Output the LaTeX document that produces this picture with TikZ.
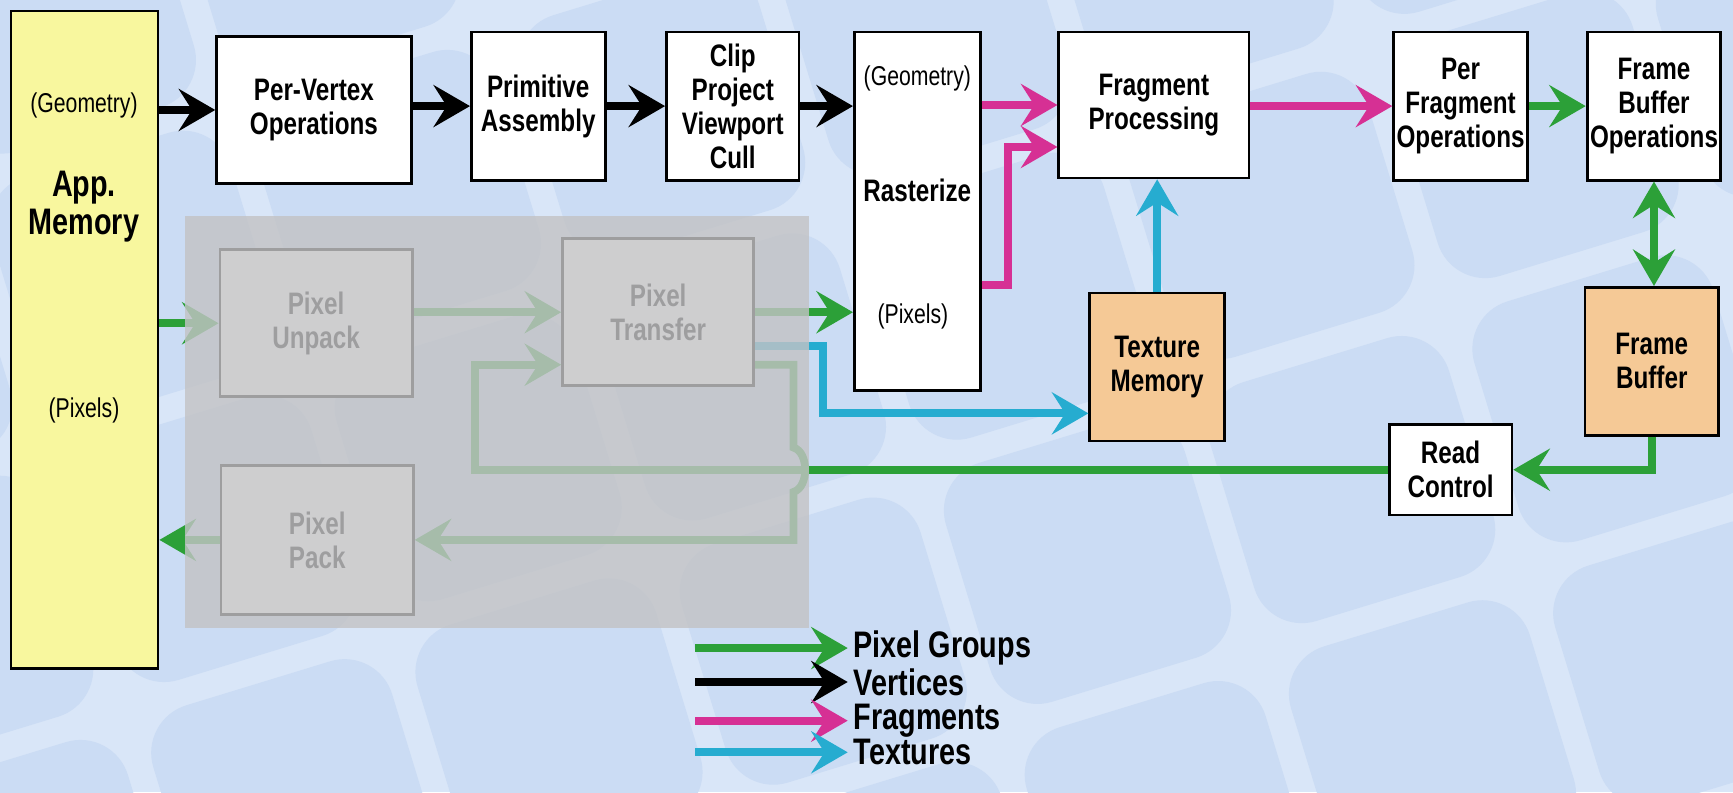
\documentclass[tikz,border=0pt]{standalone}
\usepackage{fontspec}
\setmainfont{Liberation Sans}[FakeStretch=0.78]
\usetikzlibrary{arrows.meta}
\definecolor{gl-green}{RGB}{44,160,56}
\definecolor{gl-magenta}{RGB}{214,48,148}
\definecolor{gl-cyan}{RGB}{38,172,208}
\definecolor{gl-yellow}{RGB}{248,247,158}
\definecolor{gl-orange}{RGB}{245,201,150}
\definecolor{gl-tile}{RGB}{203,220,244}
\definecolor{gl-grout}{RGB}{217,230,248}
\definecolor{gl-veil}{RGB}{195,195,197}

\begin{document}
\begin{tikzpicture}[x=0.2mm, y=0.2mm,
    fat/.tip={Stealth[length=6.6mm,width=7.6mm,inset=2.4mm]},
    stage/.style={draw, line width=0.5mm, fill=white, align=center, inner sep=0pt,
      font={\fontsize{16}{17.5}\selectfont\bfseries}},
    store/.style={stage, fill=gl-orange},
    faint/.style={inner sep=0pt, font={\fontsize{14}{16}\selectfont}},
    lgtext/.style={anchor=base west, inner sep=1mm, font={\fontsize{19}{20}\selectfont\bfseries}},
    pxflow/.style={line width=1.4mm, gl-green, -fat},
    vxflow/.style={line width=1.4mm, black, -fat},
    frflow/.style={line width=1.4mm, gl-magenta, -fat},
    txflow/.style={line width=1.4mm, gl-cyan, -fat}]
    \useasboundingbox (0,0) rectangle (1568,-717);

    \begin{scope}
        \clip (0,0) rectangle (1568,-717);
        \fill[gl-grout] (0,0) rectangle (1568,-717);
        \begin{scope}[shift={(1140,-590)}, rotate=17]
            \foreach \i in {-6,...,3}
                \foreach \j in {-2,...,4}
                    \fill[gl-tile, rounded corners=9mm] (\i*250+12,\j*250+12) rectangle ++(226,226);
        \end{scope}
    \end{scope}

    \node[stage, fill=gl-yellow, minimum width=26.6mm, minimum height=119mm] (app) at (76.5,-307.5) {};
    \node[faint] (appgeo) at (76,-95) {(Geometry)};
    \node[align=center, font={\fontsize{19}{20}\selectfont\bfseries}] (appname) at (76,-187) {App.\\Memory};
    \node[faint] (apppix) at (76,-371) {(Pixels)};

    \node[stage, minimum width=35.2mm, minimum height=26.6mm] (pervertex) at (284,-99.5) {Per-Vertex\\Operations};
    \node[stage, minimum width=24.2mm, minimum height=26.8mm] (primitive) at (487,-96) {Primitive\\Assembly};
    \node[stage, minimum width=24mm, minimum height=26.8mm] (clip) at (663,-96) {Clip\\Project\\Viewport\\Cull};
    \node[stage, minimum width=22.8mm, minimum height=64.8mm] (raster) at (830,-191) {};
    \node[faint] (rastergeo) at (830,-71) {(Geometry)};
    \node[font={\fontsize{16}{17.5}\selectfont\bfseries}] (rastername) at (830,-172) {Rasterize};
    \node[faint] (rasterpix) at (826,-286) {(Pixels)};
    \node[stage, minimum width=34.4mm, minimum height=26.4mm] (fragproc) at (1044,-95) {Fragment\\Processing};
    \node[stage, minimum width=24.2mm, minimum height=26.8mm] (perfrag) at (1321.5,-96) {Per\\Fragment\\Operations};
    \node[stage, minimum width=24.2mm, minimum height=26.8mm] (fbops) at (1496.5,-96) {Frame\\Buffer\\Operations};
    \node[store, minimum width=24.4mm, minimum height=26.8mm] (texmem) at (1047,-332) {Texture\\Memory};
    \node[store, minimum width=24.2mm, minimum height=26.8mm] (fb) at (1494.5,-327) {Frame\\Buffer};
    \node[stage, minimum width=22.2mm, minimum height=16.4mm] (readctl) at (1312.5,-425) {Read\\Control};

    \node[stage, minimum width=34.8mm, minimum height=26.6mm] (unpack) at (286,-292.5) {Pixel\\Unpack};
    \node[stage, minimum width=34.6mm, minimum height=26.6mm] (transfer) at (595.5,-282.5) {Pixel\\Transfer};
    \node[stage, minimum width=34.8mm, minimum height=27mm] (pack) at (287,-488.5) {Pixel\\Pack};

    \draw[vxflow] (app.east |- pervertex.west) -- (pervertex.west);
    \draw[vxflow] (pervertex.east |- primitive.west) -- (primitive.west);
    \draw[vxflow] (primitive.east) -- (clip.west);
    \draw[vxflow] (clip.east) -- (clip.east -| raster.west);
    \draw[frflow] (raster.east |- fragproc.west) -- (fragproc.west);
    \draw[frflow] ([yshift=-13.4mm]raster.east) -| ([xshift=-9mm,yshift=-7.6mm]fragproc.west) -- ([yshift=-7.6mm]fragproc.west);
    \draw[frflow] (fragproc.east |- perfrag.west) -- (perfrag.west);
    \draw[pxflow] (perfrag.east) -- (fbops.west);
    \draw[pxflow, fat-fat] (fbops.south) -- (fbops.south |- fb.north);
    \draw[pxflow] (fb.south) |- (readctl.east);
    \draw[txflow] (texmem.north) -- (texmem.north |- fragproc.south);

    \draw[pxflow] (app.east |- unpack.west) -- (unpack.west);
    \draw[pxflow] (unpack.east |- transfer.west) -- (transfer.west);
    \draw[pxflow] (transfer.east) -- (transfer.east -| raster.west);
    \draw[txflow] ([yshift=-6.1mm]transfer.east) -| ([xshift=-48mm,yshift=-8.4mm]texmem.west) -- ([yshift=-8.4mm]texmem.west);
    \draw[pxflow] (readctl.west) -| ([xshift=-15.6mm,yshift=-9.5mm]transfer.west) -- ([yshift=-9.5mm]transfer.west);
    \coordinate (hop) at (718,-425);
    \draw[pxflow] ([yshift=-9.5mm]transfer.east) -| ([yshift=4mm]hop) .. controls +(14,-4) and +(14,4) .. ([yshift=-4mm]hop) |- (pack.east);
    \draw[pxflow] (pack.west) -- (pack.west -| app.east);

    \fill[gl-veil, fill opacity=0.81] (167,-195) rectangle (732,-568);

    \node[lgtext] (lgpix) at (767,-595) {Pixel Groups};
    \node[lgtext] (lgvtx) at (767,-629) {Vertices};
    \node[lgtext] (lgfrag) at (767,-660) {Fragments};
    \node[lgtext] (lgtex) at (767,-692) {Textures};
    \draw[pxflow] ([xshift=-27.6mm]lgpix.west) -- (lgpix.west);
    \draw[vxflow] ([xshift=-27.6mm]lgvtx.west) -- (lgvtx.west);
    \draw[frflow] ([xshift=-27.6mm]lgfrag.west) -- (lgfrag.west);
    \draw[txflow] ([xshift=-27.6mm]lgtex.west) -- (lgtex.west);
\end{tikzpicture}
\end{document}
